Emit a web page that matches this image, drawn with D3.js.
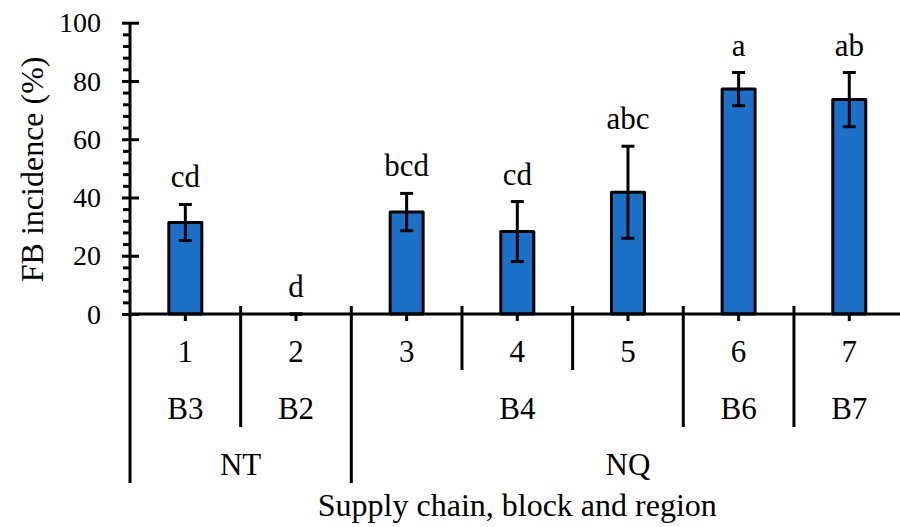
<!DOCTYPE html>
<html>
<head>
<meta charset="utf-8">
<script src="https://cdn.jsdelivr.net/npm/d3@7"></script>
<style>
  html, body { margin: 0; padding: 0; background: #fff; }
  svg { display: block; }
</style>
</head>
<body>
<svg id="chart" width="900" height="527"></svg>
<script>
// Supply chain index, block and region for each group
const chains  = ["1", "2", "3", "4", "5", "6", "7"];
const blocks  = ["B3", "B2", "B4", "B4", "B4", "B6", "B7"];
const regions = ["NT", "NT", "NQ", "NQ", "NQ", "NQ", "NQ"];

// Mean FB incidence (%) with its error (±) and significance letters
const incidence = [31.4, 0, 35.0, 28.3, 41.8, 77.2, 73.6];
const errors    = [6.2, 0, 6.4, 10.3, 15.8, 5.7, 9.3];
const letters   = ["cd", "d", "bcd", "cd", "abc", "a", "ab"];

const yMajorTicks = [0, 20, 40, 60, 80, 100];
const yMinorTicks = d3.range(0, 100, 4).filter(v => v % 20 !== 0);

const svg = d3.select("#chart");
const FONT = "Liberation Serif";

const plotLeft = 130, plotRight = 904.6, plotTop = 22.7, plotBase = 314;
const x = d3.scaleBand().domain(chains).range([plotLeft, plotRight]).padding(0);
const y = d3.scaleLinear().domain([0, 100]).range([plotBase, plotTop]);
const bw = x.bandwidth();
const cx = c => x(c) + bw / 2;

const black = "#000";
const sw = 3;
const barFill = "#1b71c8";

// Minor y ticks (left side only)
const minorAxis = svg.append("g")
  .attr("transform", `translate(${plotLeft},0)`)
  .call(d3.axisLeft(y).tickValues(yMinorTicks).tickSize(7).tickFormat(""));
// Major y ticks crossing the axis line
const majorAxis = svg.append("g")
  .attr("transform", `translate(${plotLeft},0)`)
  .call(d3.axisLeft(y).tickValues(yMajorTicks).tickSize(8).tickPadding(21));
const majorAxisR = svg.append("g")
  .attr("transform", `translate(${plotLeft},0)`)
  .call(d3.axisRight(y).tickValues(yMajorTicks).tickSize(9).tickFormat(""));

[minorAxis, majorAxis, majorAxisR].forEach(g => {
  g.select(".domain").remove();
  g.selectAll(".tick line").attr("stroke", black).attr("stroke-width", sw);
});
majorAxis.attr("font-family", FONT);
majorAxis.selectAll(".tick text")
  .attr("font-family", FONT)
  .attr("font-size", 28)
  .attr("fill", black)
  .attr("dy", "0.33em");

// Category ticks below the baseline
const xAxis = svg.append("g")
  .attr("transform", `translate(0,${plotBase})`)
  .call(d3.axisBottom(x).tickSize(7).tickFormat(""));
xAxis.select(".domain").remove();
xAxis.selectAll(".tick line").attr("stroke", black).attr("stroke-width", sw);

// Bars
svg.append("g").selectAll("rect")
  .data(chains)
  .join("rect")
  .attr("x", c => cx(c) - 16.5)
  .attr("width", 33)
  .attr("y", (c, i) => y(incidence[i]))
  .attr("height", (c, i) => plotBase - y(incidence[i]))
  .attr("fill", barFill)
  .attr("stroke", black)
  .attr("stroke-width", sw)
  .attr("stroke-linejoin", "round")
  .attr("display", (c, i) => incidence[i] > 0 ? null : "none");

// Axis lines
svg.append("line")
  .attr("x1", plotLeft).attr("x2", plotLeft)
  .attr("y1", plotTop).attr("y2", 483)
  .attr("stroke", black).attr("stroke-width", sw);
svg.append("line")
  .attr("x1", plotLeft).attr("x2", plotRight + 2)
  .attr("y1", plotBase).attr("y2", plotBase)
  .attr("stroke", black).attr("stroke-width", sw);

// Error bars
const cap = 6.5;
const eb = svg.append("g").attr("stroke", black).attr("stroke-width", sw);
chains.forEach((c, i) => {
  const hi = y(incidence[i] + errors[i]);
  const lo = y(Math.max(0, incidence[i] - errors[i]));
  const xc = cx(c);
  eb.append("line").attr("x1", xc).attr("x2", xc).attr("y1", hi).attr("y2", lo);
  eb.append("line").attr("x1", xc - cap).attr("x2", xc + cap).attr("y1", hi).attr("y2", hi);
  eb.append("line").attr("x1", xc - cap).attr("x2", xc + cap).attr("y1", lo).attr("y2", lo);
});

// Significance letters
svg.append("g").selectAll("text")
  .data(chains)
  .join("text")
  .attr("x", c => cx(c))
  .attr("y", (c, i) => y(incidence[i] + errors[i]) - 17)
  .attr("text-anchor", "middle")
  .attr("font-family", FONT)
  .attr("font-size", 31)
  .attr("fill", black)
  .text((c, i) => letters[i]);

// Hierarchical category separators: deepest for a region change, medium for a block change
const levelDepth = {1: 370, 2: 427, 3: 483};
for (let b = 1; b <= chains.length; b++) {
  let level;
  if (b === chains.length || regions[b] !== regions[b - 1]) level = 3;
  else if (blocks[b] !== blocks[b - 1]) level = 2;
  else level = 1;
  const bx = b < chains.length ? x(chains[b]) : plotRight;
  svg.append("line")
    .attr("x1", bx).attr("x2", bx)
    .attr("y1", plotBase - 8).attr("y2", levelDepth[level])
    .attr("stroke", black).attr("stroke-width", sw);
}

// Level 1 labels: chain numbers
svg.append("g").selectAll("text")
  .data(chains)
  .join("text")
  .attr("x", c => cx(c))
  .attr("y", 362)
  .attr("text-anchor", "middle")
  .attr("font-family", FONT)
  .attr("font-size", 31)
  .text(c => c);

// Contiguous runs of equal keys
function runs(keys) {
  const out = [];
  keys.forEach((k, i) => {
    const last = out[out.length - 1];
    if (last && last.key === k) last.end = i;
    else out.push({key: k, start: i, end: i});
  });
  return out;
}
function runCenter(r) {
  return (x(chains[r.start]) + x(chains[r.end]) + bw) / 2;
}

// Level 2 labels: blocks
svg.append("g").selectAll("text")
  .data(runs(blocks))
  .join("text")
  .attr("x", runCenter)
  .attr("y", 419)
  .attr("text-anchor", "middle")
  .attr("font-family", FONT)
  .attr("font-size", 31)
  .text(r => r.key);

// Level 3 labels: regions
svg.append("g").selectAll("text")
  .data(runs(regions))
  .join("text")
  .attr("x", runCenter)
  .attr("y", 475)
  .attr("text-anchor", "middle")
  .attr("font-family", FONT)
  .attr("font-size", 31)
  .text(r => r.key);

// Axis titles
svg.append("text")
  .attr("x", (plotLeft + plotRight) / 2)
  .attr("y", 516)
  .attr("text-anchor", "middle")
  .attr("font-family", FONT)
  .attr("font-size", 32)
  .text("Supply chain, block and region");

svg.append("text")
  .attr("transform", `translate(43,${(plotTop + plotBase) / 2 + 1}) rotate(-90)`)
  .attr("text-anchor", "middle")
  .attr("font-family", FONT)
  .attr("font-size", 32)
  .text("FB incidence (%)");
</script>
</body>
</html>
